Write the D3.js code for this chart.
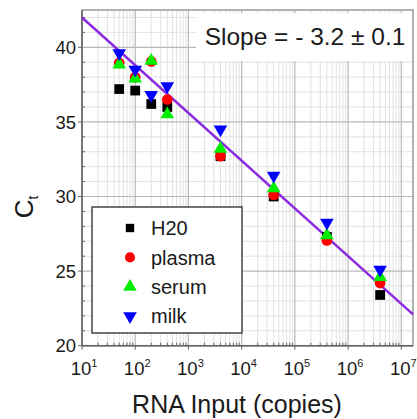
<!DOCTYPE html>
<html><head><meta charset="utf-8">
<script src="https://cdn.jsdelivr.net/npm/d3@7/dist/d3.min.js"></script>
<style>body{margin:0;background:#fff}svg{display:block;font-family:"Liberation Sans",Arial,Helvetica,sans-serif}</style>
</head><body>
<svg id="c" width="417" height="419"></svg>
<script>
const inputs = [50, 100, 200, 400, 4000, 40000, 400000, 4000000];
const h2o    = [37.2, 37.1, 36.2, 36.0, 32.7, 30.0, 27.3, 23.4];
const plasma = [38.95, 38.0, 39.05, 36.5, 32.7, 30.1, 27.05, 24.2];
const serum  = [38.85, 37.9, 39.1, 35.5, 33.2, 30.55, 27.4, 24.6];
const milk   = [39.6, 38.5, 36.8, 37.4, 34.5, 31.4, 28.25, 25.1];
const seriesNames = ["H20", "plasma", "serum", "milk"];
const seriesColors = ["#000000", "#ff0000", "#00ee00", "#0000ff"];
const fitSlope = -3.2, fitIntercept = 45.2;
const xTickExps = [1, 2, 3, 4, 5, 6, 7];
const yTicks = [20, 25, 30, 35, 40];

const svg = d3.select("#c");
const L = 82, R = 413, T = 10, B = 345.7;
const x = d3.scaleLog().domain([10, Math.pow(10, 7.22)]).range([L, R]);
const y = d3.scaleLinear().domain([20, 42.5]).range([B, T]);

// grid
const minorX = [];
for (let e = 1; e <= 7; e++) for (let m = 2; m <= 9; m++) { const v = m * Math.pow(10, e); if (v < x.domain()[1]) minorX.push(v); }
const minorY = d3.range(21, 43).filter(v => v % 5 !== 0);
const g = svg.append("g");
g.selectAll(".mx").data(minorX).join("line").attr("x1", d => x(d)).attr("x2", d => x(d)).attr("y1", T).attr("y2", B).attr("stroke", "#e2e2e2").attr("stroke-width", 1);
g.selectAll(".my").data(minorY).join("line").attr("y1", d => y(d)).attr("y2", d => y(d)).attr("x1", L).attr("x2", R).attr("stroke", "#e2e2e2").attr("stroke-width", 1);
g.selectAll(".Mx").data(xTickExps).join("line").attr("x1", d => x(Math.pow(10, d))).attr("x2", d => x(Math.pow(10, d))).attr("y1", T).attr("y2", B).attr("stroke", "#b8b8b8").attr("stroke-width", 1.2);
g.selectAll(".My").data(yTicks).join("line").attr("y1", d => y(d)).attr("y2", d => y(d)).attr("x1", L).attr("x2", R).attr("stroke", "#b8b8b8").attr("stroke-width", 1.2);

// frame
svg.append("rect").attr("x", L).attr("y", T).attr("width", R - L).attr("height", B - T).attr("fill", "none").attr("stroke", "#9a9a9a").attr("stroke-width", 1.5);

// slope label box
svg.append("rect").attr("x", 196).attr("y", 13).attr("width", 216).attr("height", 48).attr("fill", "#fff");
svg.append("text").attr("x", 305).attr("y", 45).attr("text-anchor", "middle").attr("font-size", 24.5).attr("fill", "#1a1a1a").text("Slope = - 3.2 \u00b1 0.1");

// axes ticks
const ax = svg.append("g").attr("stroke", "#666");
ax.append("line").attr("x1", L).attr("x2", L).attr("y1", T).attr("y2", B).attr("stroke-width", 1.5);
ax.append("line").attr("x1", L).attr("x2", R).attr("y1", B).attr("y2", B).attr("stroke-width", 1.5);
ax.selectAll(".ty").data(minorY).join("line").attr("x1", L).attr("x2", L + 3).attr("y1", d => y(d)).attr("y2", d => y(d));
ax.selectAll(".tY").data(yTicks).join("line").attr("x1", L - 4).attr("x2", L).attr("y1", d => y(d)).attr("y2", d => y(d));
ax.selectAll(".tx").data(minorX).join("line").attr("y1", B).attr("y2", B - 3).attr("x1", d => x(d)).attr("x2", d => x(d));
ax.selectAll(".tX").data(xTickExps).join("line").attr("y1", B).attr("y2", B + 4).attr("x1", d => x(Math.pow(10, d))).attr("x2", d => x(Math.pow(10, d)));

svg.selectAll(".yl").data(yTicks).join("text").attr("x", L - 6).attr("y", d => y(d)).attr("dy", "0.36em").attr("text-anchor", "end").attr("font-size", 18.5).attr("fill", "#1a1a1a").text(d => d);
const xl = svg.selectAll(".xl").data(xTickExps).join("text").attr("x", d => x(Math.pow(10, d)) + 2).attr("y", 375).attr("text-anchor", "middle").attr("font-size", 18.5).attr("fill", "#1a1a1a");
xl.append("tspan").text("10");
xl.append("tspan").attr("font-size", 11).attr("dy", -8).text(d => d);

// axis titles
svg.append("text").attr("x", 237).attr("y", 413).attr("text-anchor", "middle").attr("font-size", 25).attr("fill", "#1a1a1a").text("RNA Input (copies)");
const yt = svg.append("text").attr("transform", "translate(33,207) rotate(-90)").attr("text-anchor", "middle").attr("font-size", 26).attr("fill", "#1a1a1a");
yt.append("tspan").text("C");
yt.append("tspan").attr("font-size", 14).attr("dy", 5).text("t");

// fit line
const lx = x.domain();
svg.append("line").attr("x1", x(lx[0])).attr("x2", x(lx[1]))
  .attr("y1", y(fitIntercept + fitSlope * Math.log10(lx[0]))).attr("y2", y(fitIntercept + fitSlope * Math.log10(lx[1])))
  .attr("stroke", "#8a2be2").attr("stroke-width", 2.5);

// markers
const symbols = [d3.symbol().type(d3.symbolSquare).size(95), d3.symbol().type(d3.symbolCircle).size(90), d3.symbol().type(d3.symbolTriangle).size(80), d3.symbol().type(d3.symbolTriangle).size(80)];
const rot = [0, 0, 0, 180];
const allSeries = [h2o, plasma, serum, milk];
allSeries.forEach((vals, i) => {
  svg.append("g").selectAll("path").data(vals).join("path")
    .attr("d", symbols[i]())
    .attr("transform", (d, j) => `translate(${x(inputs[j])},${y(d)}) rotate(${rot[i]})`)
    .attr("fill", seriesColors[i]);
});

// legend
const lg = svg.append("g");
lg.append("rect").attr("x", 92).attr("y", 207).attr("width", 150).attr("height", 126).attr("fill", "#fff").attr("stroke", "#444").attr("stroke-width", 1.5);
seriesNames.forEach((n, i) => {
  const yy = 228 + i * 29.4;
  lg.append("path").attr("d", d3.symbol().type(i === 0 ? d3.symbolSquare : i === 1 ? d3.symbolCircle : d3.symbolTriangle).size(i === 0 ? 70 : 80)())
    .attr("transform", `translate(130,${yy}) rotate(${rot[i]})`).attr("fill", seriesColors[i]);
  lg.append("text").attr("x", 151).attr("y", yy).attr("dy", "0.36em").attr("font-size", 20).attr("fill", "#1a1a1a").text(n);
});
</script>
</body></html>
